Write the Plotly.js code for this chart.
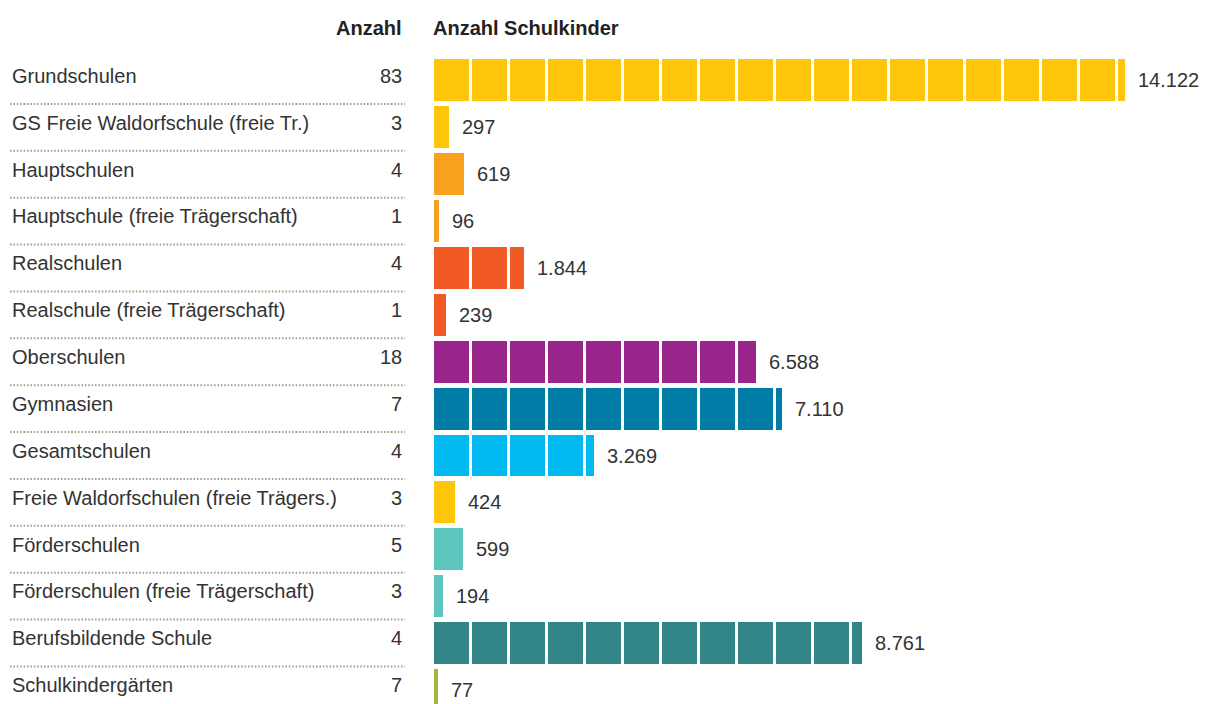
<!DOCTYPE html>
<html>
<head>
<meta charset="utf-8">
<script src="https://cdn.plot.ly/plotly-3.0.1.min.js"></script>
<style>html,body{margin:0;padding:0;background:#fff;}#chart{width:1207px;height:704px;}</style>
</head>
<body>
<div id="chart"></div>
<script>
const categories = [
  "Grundschulen",
  "GS Freie Waldorfschule (freie Tr.)",
  "Hauptschulen",
  "Hauptschule (freie Trägerschaft)",
  "Realschulen",
  "Realschule (freie Trägerschaft)",
  "Oberschulen",
  "Gymnasien",
  "Gesamtschulen",
  "Freie Waldorfschulen (freie Trägers.)",
  "Förderschulen",
  "Förderschulen (freie Trägerschaft)",
  "Berufsbildende Schule",
  "Schulkindergärten"
];
const anzahl = [83, 3, 4, 1, 4, 1, 18, 7, 4, 3, 5, 3, 4, 7];
const schulkinder = [14122, 297, 619, 96, 1844, 239, 6588, 7110, 3269, 424, 599, 194, 8761, 77];
const valueLabels = ["14.122", "297", "619", "96", "1.844", "239", "6.588", "7.110", "3.269", "424", "599", "194", "8.761", "77"];
const barColors = ["#FDC60B", "#FDC60B", "#F8A11E", "#F8A11E", "#F15A24", "#F15A24", "#99248B", "#007CA6", "#00BAF0", "#FDC60B", "#5CC6BF", "#5CC6BF", "#318587", "#A3B53A"];

const PX_PER_UNIT = 0.0489;
const PLOT_LEFT = 434;
const FIG_W = 1207;
const SEG = 38 / PX_PER_UNIT;   // segment period in data units
const GAP = 3 / PX_PER_UNIT;    // white gap between segments
const BW = 0.895;
const FONT = "Liberation Sans, Arial, sans-serif";

const y = categories.map((_, i) => i);
const xmax = (FIG_W - PLOT_LEFT) / PX_PER_UNIT;
const px2paper = p => (p - PLOT_LEFT) / (FIG_W - PLOT_LEFT);

const trace = {
  type: "bar",
  orientation: "h",
  x: schulkinder,
  y: y,
  width: BW,
  marker: {color: barColors, line: {width: 0}},
  hoverinfo: "skip"
};

const shapes = [];
schulkinder.forEach((v, i) => {
  for (let k = 1; k * SEG - GAP < v; k++) {
    shapes.push({
      type: "rect", xref: "x", yref: "y",
      x0: k * SEG - GAP, x1: Math.min(k * SEG, v),
      y0: i - BW / 2 - 0.01, y1: i + BW / 2 + 0.01,
      fillcolor: "#ffffff", line: {width: 0}, layer: "above"
    });
  }
  if (i < categories.length - 1) {
    shapes.push({
      type: "line", xref: "paper", yref: "y",
      x0: px2paper(10), x1: px2paper(405), y0: i + 0.5, y1: i + 0.5,
      line: {color: "#a3a38c", width: 2, dash: "1.6px,1.8px"}
    });
  }
});

const annotations = [];
categories.forEach((c, i) => {
  annotations.push({
    xref: "paper", yref: "y", x: px2paper(10), y: i - 0.1,
    text: c, showarrow: false, xanchor: "left", yanchor: "middle",
    font: {family: FONT, size: 20, color: "#333333"}
  });
  annotations.push({
    xref: "paper", yref: "y", x: px2paper(404), y: i - 0.1,
    text: String(anzahl[i]), showarrow: false, xanchor: "right", yanchor: "middle",
    font: {family: FONT, size: 20, color: "#333333"}
  });
  annotations.push({
    xref: "x", yref: "y", x: schulkinder[i], y: i,
    text: valueLabels[i], showarrow: false, xanchor: "left", yanchor: "middle",
    xshift: 11,
    font: {family: FONT, size: 20, color: "#333333"}
  });
});
annotations.push({
  xref: "paper", yref: "paper", x: px2paper(404), y: 1, yshift: 29,
  text: "<b>Anzahl</b>", showarrow: false, xanchor: "right", yanchor: "middle",
  font: {family: FONT, size: 20, color: "#222222"}
});
annotations.push({
  xref: "paper", yref: "paper", x: 0, xshift: -3, y: 1, yshift: 29,
  text: "<b>Anzahl Schulkinder</b>", showarrow: false, xanchor: "left", yanchor: "middle",
  font: {family: FONT, size: 20, color: "#222222"}
});

const topPx = 56.5;
const rowPx = 46.92;
const bottomVal = (704 - topPx) / rowPx - 0.5;

const layout = {
  width: FIG_W, height: 704,
  margin: {l: PLOT_LEFT, r: 0, t: topPx, b: 0, pad: 0},
  paper_bgcolor: "#ffffff", plot_bgcolor: "#ffffff",
  showlegend: false,
  bargap: 0,
  xaxis: {range: [0, xmax], visible: false, fixedrange: true},
  yaxis: {range: [bottomVal, -0.5], visible: false, fixedrange: true},
  shapes: shapes,
  annotations: annotations
};

Plotly.newPlot("chart", [trace], layout, {displayModeBar: false, staticPlot: true});
</script>
</body>
</html>
